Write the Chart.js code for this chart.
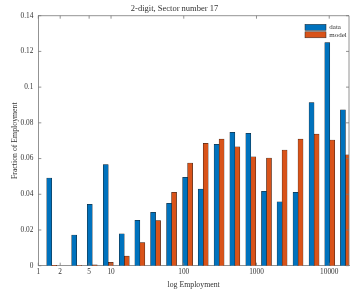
<!DOCTYPE html>
<html>
<head>
<meta charset="utf-8">
<script src="https://cdn.jsdelivr.net/npm/chart.js@4"></script>
<style>
  html, body { margin: 0; padding: 0; background: #fff; }
  #wrap { width: 350px; height: 290px; }
</style>
</head>
<body>
<div id="wrap"><canvas id="sectorChart" width="350" height="290"></canvas></div>
<script>
// bin centres (employment) and fractions
const binCenters = [1.53, 3.37, 5.52, 9.16, 15.2, 24.9, 41, 68, 113, 185, 306, 504, 835, 1372, 2248, 3725, 6186, 10170, 16700];
const dataShare  = [0.0491, 0.0172, 0.0344, 0.0566, 0.0179, 0.0254, 0.0299, 0.0349, 0.0495, 0.0429, 0.0680, 0.0747, 0.0741, 0.0417, 0.0358, 0.0411, 0.0913, 0.1249, 0.0873];
const modelShare = [0.0002, 0.0001, 0.0005, 0.0019, 0.0054, 0.0129, 0.0252, 0.0411, 0.0575, 0.0685, 0.0709, 0.0665, 0.0610, 0.0603, 0.0648, 0.0709, 0.0737, 0.0704, 0.0621];
const xTicks = [1, 2, 5, 10, 100, 1000, 10000];
const yTicks = [0, 0.02, 0.04, 0.06, 0.08, 0.1, 0.12, 0.14];

const serif = "'Liberation Serif', 'DejaVu Serif', serif";
const textColor = '#333';
const axisColor = '#777';

// box on top/right, inward ticks and the legend inside the axes
const matlabBox = {
  id: 'matlabBox',
  afterDraw(chart) {
    const { ctx, chartArea: a, scales } = chart;
    ctx.save();
    ctx.strokeStyle = axisColor;
    ctx.lineWidth = 0.8;
    ctx.beginPath();
    ctx.moveTo(a.left, a.top); ctx.lineTo(a.right, a.top);
    ctx.moveTo(a.right, a.top); ctx.lineTo(a.right, a.bottom);
    const len = 3;
    xTicks.forEach(v => {
      const px = scales.x.getPixelForValue(v);
      ctx.moveTo(px, a.bottom); ctx.lineTo(px, a.bottom - len);
      ctx.moveTo(px, a.top); ctx.lineTo(px, a.top + len);
    });
    yTicks.forEach(v => {
      const py = scales.y.getPixelForValue(v);
      ctx.moveTo(a.left, py); ctx.lineTo(a.left + len, py);
      ctx.moveTo(a.right, py); ctx.lineTo(a.right - len, py);
    });
    ctx.stroke();

    // legend
    const items = chart.data.datasets;
    ctx.font = '7px ' + serif;
    ctx.textBaseline = 'middle';
    items.forEach((ds, i) => {
      const y = 24.3 + i * 7.5;
      ctx.fillStyle = ds.backgroundColor;
      ctx.fillRect(305, y, 21, 6);
      ctx.strokeStyle = '#222';
      ctx.lineWidth = 0.5;
      ctx.strokeRect(305, y, 21, 6);
      ctx.fillStyle = textColor;
      ctx.fillText(ds.label, 329.3, y + 3);
    });
    ctx.restore();
  }
};

const ctx = document.getElementById('sectorChart').getContext('2d');
new Chart(ctx, {
  type: 'bar',
  data: {
    datasets: [{
      label: 'data',
      data: binCenters.map((x, i) => ({ x: x, y: dataShare[i] })),
      backgroundColor: '#0072BD',
      borderColor: '#1a1a1a',
      borderWidth: 0.5,
      barThickness: 5
    }, {
      label: 'model',
      data: binCenters.map((x, i) => ({ x: x, y: modelShare[i] })),
      backgroundColor: '#D95319',
      borderColor: '#1a1a1a',
      borderWidth: 0.5,
      barThickness: 5
    }]
  },
  plugins: [matlabBox],
  options: {
    responsive: false,
    animation: false,
    layout: { padding: { left: 0, right: 1, top: 0, bottom: 0 } },
    plugins: {
      legend: { display: false },
      tooltip: { enabled: false },
      title: {
        display: true,
        text: '2-digit, Sector number 17',
        color: textColor,
        font: { family: serif, size: 8.5, weight: 'normal' },
        padding: { top: 3.5, bottom: 2 }
      }
    },
    scales: {
      x: {
        type: 'logarithmic',
        min: 1,
        max: 18700,
        offset: false,
        grid: { display: false, offset: false, drawTicks: false },
        border: { display: true, color: axisColor, width: 0.8 },
        afterBuildTicks: scale => { scale.ticks = xTicks.map(v => ({ value: v })); },
        afterFit: scale => { scale.height = 24.3; },
        ticks: {
          autoSkip: false,
          maxRotation: 0,
          padding: 2,
          color: textColor,
          font: { family: serif, size: 7.3 },
          callback: v => String(v)
        },
        title: {
          display: true,
          text: 'log Employment',
          color: textColor,
          font: { family: serif, size: 7.8 },
          padding: { top: 1, bottom: 0 }
        }
      },
      y: {
        min: 0,
        max: 0.14,
        grid: { display: false, drawTicks: false },
        border: { display: true, color: axisColor, width: 0.8 },
        afterBuildTicks: scale => { scale.ticks = yTicks.map(v => ({ value: v })); },
        afterFit: scale => { scale.width = 38.3; },
        ticks: {
          padding: 5,
          color: textColor,
          font: { family: serif, size: 7.3 },
          callback: v => String(v)
        },
        title: {
          display: true,
          text: 'Fraction of Employment',
          color: textColor,
          font: { family: serif, size: 7.8 },
          padding: { top: 10, bottom: 0 }
        }
      }
    }
  }
});
</script>
</body>
</html>
